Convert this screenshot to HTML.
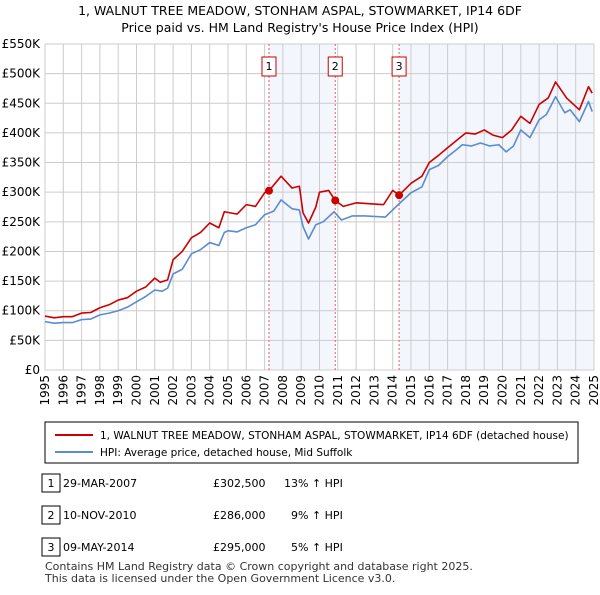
<!DOCTYPE html>
<html><head><meta charset="utf-8"><style>
body{margin:0;background:#fff;font-family:"Liberation Sans","DejaVu Sans",sans-serif;}
svg text{font-family:"DejaVu Sans","Liberation Sans",sans-serif;}
</style></head><body>
<svg id="chart" width="600" height="590" xmlns="http://www.w3.org/2000/svg">
<text x="300" y="15" font-size="12.5" text-anchor="middle">1, WALNUT TREE MEADOW, STONHAM ASPAL, STOWMARKET, IP14 6DF</text>
<text x="300" y="32" font-size="12.5" text-anchor="middle">Price paid vs. HM Land Registry's House Price Index (HPI)</text>
<g id="plot"></g>
<rect x="45" y="422" width="533" height="41" fill="#fff" stroke="#000" stroke-width="1"/>
<line x1="55" y1="435" x2="93" y2="435" stroke="#cc0000" stroke-width="2"/>
<text x="100" y="439" font-size="10.5">1, WALNUT TREE MEADOW, STONHAM ASPAL, STOWMARKET, IP14 6DF (detached house)</text>
<line x1="55" y1="452" x2="93" y2="452" stroke="#5b8bd0" stroke-width="2"/>
<text x="100" y="456" font-size="10.5">HPI: Average price, detached house, Mid Suffolk</text>
<g font-size="11">
<rect x="42" y="474" width="18" height="18" fill="#fff" stroke="#000"/><text x="51" y="487" text-anchor="middle">1</text>
<text x="63" y="487">29-MAR-2007</text><text x="213" y="487">£302,500</text><text x="284" y="487">13% ↑ HPI</text>
<rect x="42" y="506" width="18" height="18" fill="#fff" stroke="#000"/><text x="51" y="519" text-anchor="middle">2</text>
<text x="63" y="519">10-NOV-2010</text><text x="213" y="519">£286,000</text><text x="291" y="519">9% ↑ HPI</text>
<rect x="42" y="538" width="18" height="18" fill="#fff" stroke="#000"/><text x="51" y="551" text-anchor="middle">3</text>
<text x="63" y="551">09-MAY-2014</text><text x="213" y="551">£295,000</text><text x="291" y="551">5% ↑ HPI</text>
</g>
<text x="45" y="570" font-size="11" fill="#333">Contains HM Land Registry data © Crown copyright and database right 2025.</text>
<text x="45" y="582" font-size="11" fill="#333">This data is licensed under the Open Government Licence v3.0.</text>
</svg>
<script>
const yTicks=[0,50000,100000,150000,200000,250000,300000,350000,400000,450000,500000,550000];
const yLabels=["£0","£50K","£100K","£150K","£200K","£250K","£300K","£350K","£400K","£450K","£500K","£550K"];
const xYears=[1995,1996,1997,1998,1999,2000,2001,2002,2003,2004,2005,2006,2007,2008,2009,2010,2011,2012,2013,2014,2015,2016,2017,2018,2019,2020,2021,2022,2023,2024,2025];
const saleDates=[2007.24,2010.86,2014.35];
const salePrices=[302500,286000,295000];
const saleLabels=["1","2","3"];
const hpiDates=[1995,1995.5,1996,1996.5,1997,1997.5,1998,1998.5,1999,1999.5,2000,2000.5,2001,2001.4,2001.7,2002,2002.5,2003,2003.5,2004,2004.5,2004.8,2005,2005.5,2006,2006.5,2007,2007.5,2007.9,2008.5,2008.9,2009.1,2009.4,2009.8,2010.2,2010.8,2011.2,2011.8,2012.5,2013.6,2014.3,2015,2015.6,2016,2016.5,2017,2017.5,2017.8,2018.3,2018.8,2019.3,2019.8,2020.2,2020.6,2021,2021.5,2022,2022.4,2022.9,2023.4,2023.7,2024.2,2024.7,2024.9];
const hpiValues=[81600,79000,80000,80000,85000,86000,93000,96000,100000,106000,115000,124000,135000,133000,138000,162000,170000,196000,203000,215000,210000,232000,235000,233000,240000,245000,262000,268000,287000,272000,270000,242000,221000,245000,250000,267000,253000,260000,260000,258000,279000,299000,309000,338000,345000,360000,372000,380000,378000,383000,378000,380000,368000,378000,405000,392000,422000,431000,461000,434000,439000,419000,453000,436000];
const priceDates=[1995,1995.5,1996,1996.5,1997,1997.5,1998,1998.5,1999,1999.5,2000,2000.5,2001,2001.3,2001.7,2002,2002.5,2003,2003.5,2004,2004.5,2004.8,2005.5,2006,2006.5,2007,2007.24,2007.9,2008.5,2008.9,2009.1,2009.4,2009.8,2010.0,2010.5,2010.86,2011.3,2012,2013.5,2014,2014.35,2015,2015.6,2016,2016.5,2017,2018,2018.5,2019,2019.5,2020,2020.5,2021,2021.5,2022,2022.5,2022.9,2023.5,2024.2,2024.7,2024.9];
const priceValues=[91000,88000,90000,90000,96000,97000,105000,110000,118000,122000,133000,140000,155000,148000,152000,186000,200000,223000,232000,248000,240000,267000,263000,279000,276000,299000,302500,327000,307000,310000,265000,248000,275000,300000,303000,286000,276000,282000,279000,303000,295000,315000,327000,350000,362000,375000,400000,398000,405000,396000,392000,405000,428000,416000,448000,459000,486000,459000,439000,478000,467000];
const X0=45,X1=594,Y0=370,Y1=44;
function xs(t){return X0+(t-1995)/30*(X1-X0);}
function ys(v){return Y0-v/550000*(Y0-Y1);}
const NS="http://www.w3.org/2000/svg";
const plot=document.getElementById('plot');
function mk(tag,attrs,parent){const e=document.createElementNS(NS,tag);for(const k in attrs)e.setAttribute(k,attrs[k]);(parent||plot).appendChild(e);return e;}
let r=mk('rect',{x:xs(saleDates[0]),y:Y1,width:xs(saleDates[1])-xs(saleDates[0]),height:Y0-Y1,fill:'#eef3fc',opacity:0.7});


r=mk('rect',{x:xs(saleDates[2]),y:Y1,width:X1-xs(saleDates[2]),height:Y0-Y1,fill:'#eef3fc',opacity:0.7});


yTicks.forEach((v,i)=>{
 const l=mk('line',{x1:X0,x2:X1,y1:ys(v),y2:ys(v),stroke:'#cccccc','stroke-width':1});
 
 
 const t=mk('text',{x:40,y:ys(v)+4,'font-size':12,'text-anchor':'end'});
 t.textContent=yLabels[i];
 
 
});
xYears.forEach(yr=>{
 const x=xs(yr);
 const l=mk('line',{x1:x,x2:x,y1:Y1,y2:Y0,stroke:'#cccccc','stroke-width':1});
 
 
 const t=mk('text',{x:0,y:0,'font-size':12,'text-anchor':'end',transform:`translate(${x+4},${Y0+5}) rotate(-90)`});
 t.textContent=yr;
 
 
});
const border=mk('rect',{x:X0,y:Y1,width:X1-X0,height:Y0-Y1,fill:'none',stroke:'#cccccc'});


saleDates.forEach((d,i)=>{
 const x=xs(d);
 const l=mk('line',{x1:x,x2:x,y1:Y1,y2:Y0,stroke:'#e06060','stroke-width':1,'stroke-dasharray':'2,2'});
 
 
 const b=mk('rect',{x:x-7,y:57,width:14,height:19,fill:'#fff',stroke:'#cc0000'});
 
 
 const t=mk('text',{x:x,y:70,'font-size':11,'text-anchor':'middle'});
 t.textContent=saleLabels[i];
 
 
});
function line(ds,vs,color,name){
 const p=mk('polyline',{points:ds.map((d,i)=>xs(d)+','+ys(vs[i])).join(' '),fill:'none',stroke:color,'stroke-width':1.6,'stroke-linejoin':'round'});
 
 
}
line(hpiDates,hpiValues,'#5b8bd0','hpi-line');
line(priceDates,priceValues,'#cc0000','price-line');
saleDates.forEach((d,i)=>{
 const c=mk('circle',{cx:xs(d),cy:ys(salePrices[i]),r:4,fill:'#cc0000'});
 
 
});
</script>
</body></html>
